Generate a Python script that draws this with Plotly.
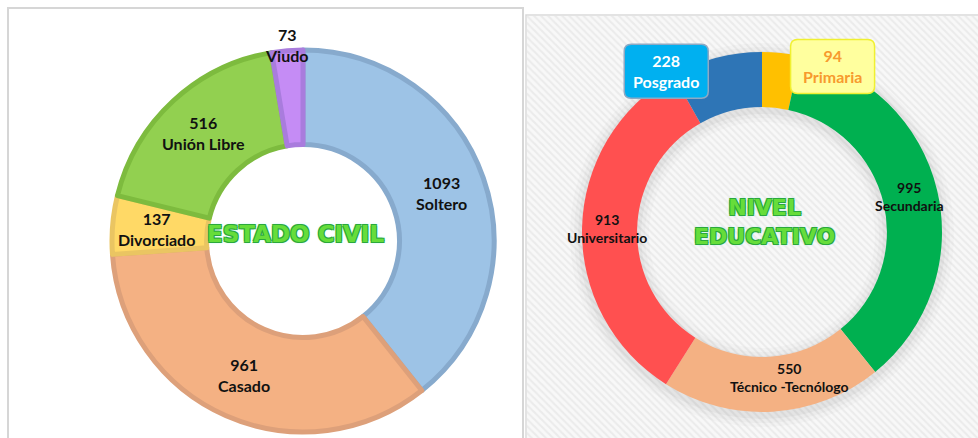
import math
import plotly.graph_objects as go

W, H = 978, 438

# ---------------- data ----------------
civil_labels = ["Soltero", "Casado", "Divorciado", "Unión Libre", "Viudo"]
civil_values = [1093, 961, 137, 516, 73]
civil_title = "ESTADO CIVIL"

edu_labels = ["Primaria", "Secundaria", "Técnico -Tecnólogo", "Universitario", "Posgrado"]
edu_values = [94, 995, 550, 913, 228]
edu_title = "NIVEL<br>EDUCATIVO"

# ---------------- style ----------------
civil_fill = ["#9DC3E6", "#F4B183", "#FFD966", "#92D050", "#C58CF5"]
civil_edge = ["#87AACD", "#DDA07A", "#EAC562", "#7DBB3E", "#A97CDD"]
edu_fill = ["#FFC000", "#00B050", "#F4B183", "#FF5050", "#2E75B6"]

# geometry (pixels)
L_CX, L_CY, L_R, L_HOLE = 303, 241, 191, 0.505
R_CX, R_CY, R_R, R_HOLE = 762, 232, 180, 0.694

civil_lab_r = [0.76, 0.76, 0.76, 0.76, 1.02]
civil_lab_da = [0, 0, 0, 0, 0]
edu_lab_r = [1.0, 0.845, 0.82, 0.86, 1.04]
edu_lab_da = [17, 0, -7, 0, -16]

# callout boxes for the two small slices
box_style = {
    "Posgrado": dict(fill="#00B0F0", edge="#8DA9C4", text="#ffffff"),
    "Primaria": dict(fill="#FFFF9E", edge="#F0F030", text="#F79A2E"),
}
BOX_W, BOX_H, BOX_R = 84, 54, 7

FONT = "Lato, 'Liberation Sans', Arial, sans-serif"


def px_domain(cx, cy, r):
    return dict(x=[(cx - r) / W, (cx + r) / W], y=[1 - (cy + r) / H, 1 - (cy - r) / H])


def to_paper(x, y):
    return x / W, 1 - y / H


def mid_angles(values):
    tot = float(sum(values))
    out, acc = [], 0.0
    for v in values:
        out.append((acc + v / 2.0) / tot * 360.0)
        acc += v
    return out


def rounded_rect_path(cx, cy, w, h, r):
    x0, x1 = cx - w / 2, cx + w / 2
    y0, y1 = cy - h / 2, cy + h / 2
    pts = []

    def P(x, y):
        xp, yp = to_paper(x, y)
        return "%.5f,%.5f" % (xp, yp)

    d = "M%s L%s Q%s %s L%s Q%s %s L%s Q%s %s L%s Q%s %s Z" % (
        P(x0 + r, y0), P(x1 - r, y0), P(x1, y0), P(x1, y0 + r),
        P(x1, y1 - r), P(x1, y1), P(x1 - r, y1),
        P(x0 + r, y1), P(x0, y1), P(x0, y1 - r),
        P(x0, y0 + r), P(x0, y0), P(x0 + r, y0))
    return d


fig = go.Figure()

# right panel hatched background
fig.add_trace(go.Bar(
    x=[0], y=[1], width=[1], xaxis="x", yaxis="y",
    marker=dict(color="#f7f7f7", line=dict(width=0),
                pattern=dict(shape="\\", size=5, solidity=0.4,
                             fgcolor="#ebebeb", bgcolor="#f8f8f8", fillmode="replace")),
    hoverinfo="skip", showlegend=False,
))

# soft shadow around right donut
for extra, alpha in [(12, 0.02), (8, 0.025), (4, 0.035)]:
    ro = R_R + extra
    ri = R_R * R_HOLE - extra
    fig.add_trace(go.Pie(
        values=[1], labels=["s"], hole=ri / ro, sort=False,
        domain=px_domain(R_CX, R_CY + 3, ro),
        marker=dict(colors=["rgba(0,0,0,%g)" % alpha], line=dict(width=0)),
        textinfo="none", hoverinfo="skip", showlegend=False,
    ))

# left donut
fig.add_trace(go.Pie(
    labels=civil_labels, values=civil_values, hole=L_HOLE, sort=False,
    direction="clockwise", rotation=0,
    domain=px_domain(L_CX, L_CY, L_R),
    marker=dict(colors=civil_fill, line=dict(color=civil_edge, width=5)),
    textinfo="none", showlegend=False,
))

# right donut
fig.add_trace(go.Pie(
    labels=edu_labels, values=edu_values, hole=R_HOLE, sort=False,
    direction="clockwise", rotation=0,
    domain=px_domain(R_CX, R_CY, R_R),
    marker=dict(colors=edu_fill, line=dict(width=0)),
    textinfo="none", showlegend=False,
))

annotations = []
shapes = []
CENTER = dict(xanchor="center", yanchor="middle", xref="paper", yref="paper", showarrow=False)

# left labels
for lab, val, ang, rf, da in zip(civil_labels, civil_values, mid_angles(civil_values),
                                 civil_lab_r, civil_lab_da):
    a = math.radians(ang + da)
    x = L_CX + rf * (L_R + 2) * math.sin(a)
    y = L_CY - rf * (L_R + 2) * math.cos(a)
    xp, yp = to_paper(x, y)
    annotations.append(dict(CENTER, x=xp, y=yp,
                            text="<b>%d</b><br><b>%s</b>" % (val, lab),
                            font=dict(family=FONT, size=16, color="#111111")))

# right labels
for lab, val, ang, rf, da in zip(edu_labels, edu_values, mid_angles(edu_values),
                                 edu_lab_r, edu_lab_da):
    a = math.radians(ang + da)
    x = R_CX + rf * R_R * math.sin(a)
    y = R_CY - rf * R_R * math.cos(a)
    xp, yp = to_paper(x, y)
    ann = dict(CENTER, x=xp, y=yp,
               text="<b>%d</b><br><b>%s</b>" % (val, lab),
               font=dict(family=FONT, size=14, color="#111111"))
    if lab in box_style:
        st = box_style[lab]
        shapes.append(dict(type="path", xref="paper", yref="paper", layer="above",
                           path=rounded_rect_path(x, y, BOX_W, BOX_H, BOX_R),
                           fillcolor=st["fill"], line=dict(color=st["edge"], width=1.5)))
        ann.update(font=dict(family=FONT, size=16, color=st["text"]))
    annotations.append(ann)

shadow = ("-1px -1px 0 #2BA83C, 1px -1px 0 #2BA83C, -1px 1px 0 #2BA83C, 1px 1px 0 #2BA83C, "
          "0 0 3px #7FEFE0")
title_font = dict(family="'DejaVu Sans', Verdana, sans-serif", size=23, color="#66DD3A",
                  weight="bold", shadow=shadow)

xp, yp = to_paper(295, 234)
annotations.append(dict(CENTER, x=xp, y=yp, text=civil_title, font=title_font))
xp, yp = to_paper(764, 222)
annotations.append(dict(CENTER, x=xp, y=yp, text=edu_title, font=dict(title_font, size=22)))

shapes += [
    dict(type="rect", xref="paper", yref="paper",
         x0=8 / W, x1=523 / W, y0=-0.05, y1=1 - 8 / H,
         line=dict(color="#D6D6D6", width=2), fillcolor="rgba(0,0,0,0)"),
    dict(type="rect", xref="paper", yref="paper",
         x0=526 / W, x1=1.02, y0=-0.05, y1=1 - 15 / H,
         line=dict(color="#DADADA", width=1.5), fillcolor="rgba(0,0,0,0)"),
]

fig.update_layout(
    width=W, height=H, margin=dict(l=0, r=0, t=0, b=0),
    paper_bgcolor="white", plot_bgcolor="rgba(0,0,0,0)",
    xaxis=dict(domain=[527 / W, 1], range=[-0.5, 0.5], visible=False, fixedrange=True),
    yaxis=dict(domain=[0, 1 - 16 / H], range=[0, 1], visible=False, fixedrange=True),
    bargap=0, annotations=annotations, shapes=shapes, showlegend=False,
)

fig.write_html("out.html", config={"displayModeBar": False},
               post_script="document.body.style.margin='0';document.body.style.overflow='hidden';")
